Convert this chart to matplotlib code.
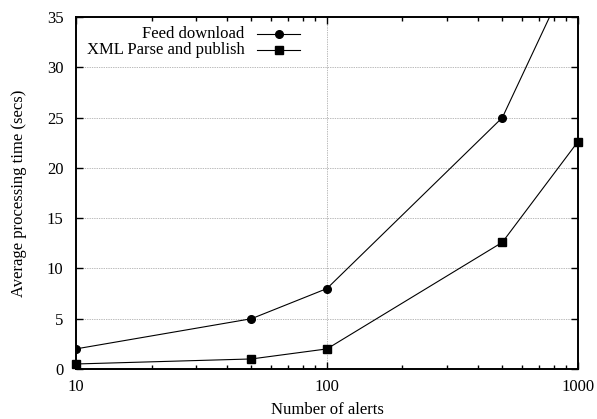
import numpy as np
import matplotlib.pyplot as plt
from matplotlib.lines import Line2D

plt.rcParams['font.family'] = ['Liberation Serif', 'DejaVu Serif']
plt.rcParams['font.size'] = 12

# data
alerts = [10, 50, 100, 500, 1000]
feed_download = [2, 5, 8, 25, 41]
xml_parse = [0.5, 1, 2, 12.6, 22.6]

fig = plt.figure(figsize=(5.97, 4.19), dpi=100)
ax = fig.add_axes([0.1273, 0.1193, 0.8407, 0.8401])

ax.plot(alerts, feed_download, color='black', lw=0.8, marker='o', ms=5.5, clip_on=True)
ax.plot(alerts, xml_parse, color='black', lw=0.8, marker='s', ms=6, clip_on=False)

ax.set_xscale('log')
ax.set_xlim(10, 1000)
ax.set_ylim(0, 35)
ax.set_yticks(np.arange(0, 36, 5))
ax.set_xticks([10, 100, 1000])
ax.set_xticklabels(['10', '100', '1000'])
ax.tick_params(which='both', direction='in', top=True, right=True, width=1.0)
ax.tick_params(which='major', length=5, pad=7)
ax.tick_params(which='minor', length=3)
ax.tick_params(axis='y', pad=9)
ax.grid(True, which='major', ls=(0, (1, 1.5)), lw=0.5, color='#777777')
for s in ax.spines.values():
    s.set_linewidth(1.4)

ax.set_xlabel('Number of alerts', labelpad=5)
ax.set_ylabel('Average processing time (secs)', labelpad=14)

# legend drawn like gnuplot: text right-aligned, key to its right
rows = [('Feed download', 'o', 5.5, 0.951), ('XML Parse and publish', 's', 6, 0.906)]
for label, mk, size, yy in rows:
    ax.text(0.336, yy, label, transform=ax.transAxes, ha='right', va='center')
    ax.add_line(Line2D([0.36, 0.447], [yy, yy], transform=ax.transAxes,
                       color='black', lw=0.8))
    ax.add_line(Line2D([0.4035], [yy], transform=ax.transAxes, color='black',
                       marker=mk, ms=size))

fig.savefig('out.png', dpi=100)
